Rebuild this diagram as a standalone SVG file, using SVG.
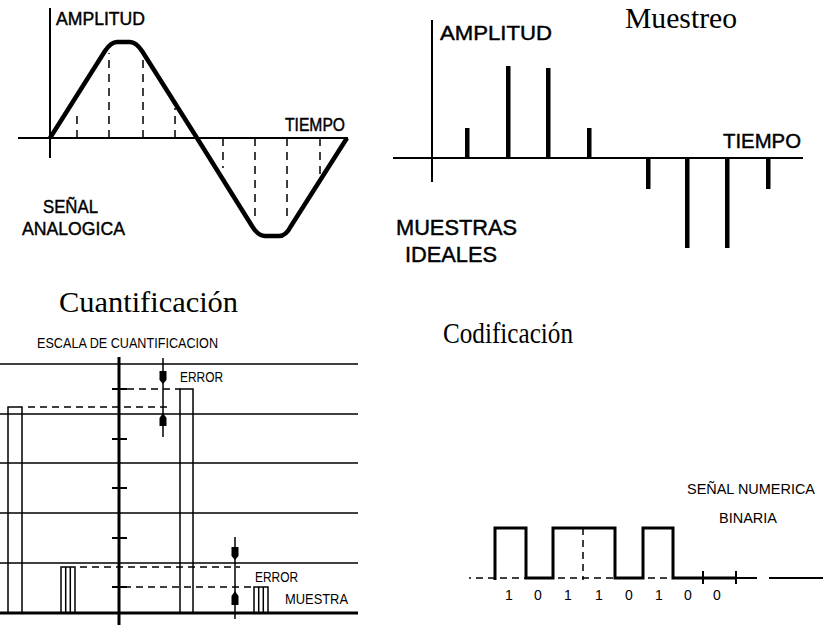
<svg xmlns="http://www.w3.org/2000/svg" width="823" height="626" viewBox="0 0 823 626">
<style>
.ax{stroke:#000;stroke-width:2;fill:none}
.thin{stroke:#000;stroke-width:1.5;fill:none}
.dash{stroke:#000;stroke-width:1.5;stroke-dasharray:8,6;fill:none}
.dash2{stroke:#000;stroke-width:1.5;stroke-dasharray:7,5;fill:none}
.bar{fill:#000}
.lbl{font-family:"Liberation Sans",Arial,sans-serif;fill:#000}
.bold{stroke:#000;stroke-width:0.45}
.ttl{font-family:"Liberation Serif","Times New Roman",serif;font-size:30px;fill:#000}
</style>
<rect width="823" height="626" fill="#fff"/>

<g id="panel-analog">
  <line class="ax" x1="50" y1="8" x2="50" y2="158"/>
  <line class="ax" x1="18" y1="138" x2="348" y2="138"/>
  <g class="dash">
    <line x1="77" y1="138" x2="77" y2="110"/>
    <line x1="109" y1="138" x2="109" y2="53"/>
    <line x1="143" y1="138" x2="143" y2="55"/>
    <line x1="175" y1="138" x2="175" y2="108"/>
    <line x1="223" y1="138" x2="223" y2="168"/>
    <line x1="255" y1="138" x2="255" y2="222"/>
    <line x1="287" y1="138" x2="287" y2="222"/>
    <line x1="320" y1="138" x2="320" y2="175"/>
  </g>
  <path d="M50,138 L105,51 Q111,42 117,42 L130,42 Q136,42 142,51 L197,138 L252,226 Q258,236 265,236 L279,236 Q286,236 291,226 L347,138" fill="none" stroke="#000" stroke-width="4.5" stroke-linejoin="round"/>
  <text class="lbl bold" x="56" y="25" font-size="18" textLength="89" lengthAdjust="spacingAndGlyphs">AMPLITUD</text>
  <text class="lbl bold" x="285" y="131" font-size="18" textLength="60" lengthAdjust="spacingAndGlyphs">TIEMPO</text>
  <text class="lbl bold" x="43" y="213" font-size="19" textLength="55" lengthAdjust="spacingAndGlyphs">SEÑAL</text>
  <text class="lbl bold" x="22" y="235" font-size="19" textLength="103" lengthAdjust="spacingAndGlyphs">ANALOGICA</text>
</g>

<g id="panel-muestreo">
  <text class="ttl" x="625" y="28" textLength="112" lengthAdjust="spacingAndGlyphs">Muestreo</text>
  <line class="ax" x1="432" y1="20" x2="432" y2="182"/>
  <line class="ax" x1="393" y1="158" x2="803" y2="158"/>
  <rect class="bar" x="465" y="128" width="4.5" height="30"/>
  <rect class="bar" x="506" y="66" width="4.5" height="92"/>
  <rect class="bar" x="546" y="68" width="4.5" height="90"/>
  <rect class="bar" x="587" y="128" width="4.5" height="30"/>
  <rect class="bar" x="646" y="158" width="4.5" height="31"/>
  <rect class="bar" x="685" y="158" width="4.5" height="90"/>
  <rect class="bar" x="725" y="158" width="4.5" height="90"/>
  <rect class="bar" x="766" y="158" width="4.5" height="31"/>
  <text class="lbl bold" x="440" y="40" font-size="21" textLength="112" lengthAdjust="spacingAndGlyphs">AMPLITUD</text>
  <text class="lbl bold" x="723" y="148" font-size="21" textLength="78" lengthAdjust="spacingAndGlyphs">TIEMPO</text>
  <text class="lbl bold" x="396" y="235" font-size="22" textLength="121" lengthAdjust="spacingAndGlyphs">MUESTRAS</text>
  <text class="lbl bold" x="405" y="262" font-size="22" textLength="92" lengthAdjust="spacingAndGlyphs">IDEALES</text>
</g>

<g id="panel-cuantificacion">
  <text class="ttl" x="59" y="312" textLength="179" lengthAdjust="spacingAndGlyphs">Cuantificación</text>
  <text class="lbl" x="37" y="348" font-size="14" textLength="181" lengthAdjust="spacingAndGlyphs">ESCALA DE CUANTIFICACION</text>
  <g class="thin">
    <line x1="0" y1="364" x2="358" y2="364"/>
    <line x1="0" y1="414" x2="358" y2="414"/>
    <line x1="0" y1="463" x2="358" y2="463"/>
    <line x1="0" y1="513" x2="358" y2="513"/>
    <line x1="0" y1="563" x2="358" y2="563"/>
  </g>
  <line x1="0" y1="613" x2="358" y2="613" stroke="#000" stroke-width="3"/>
  <line x1="119" y1="357" x2="119" y2="625" stroke="#000" stroke-width="3"/>
  <g class="ax">
    <line x1="112" y1="389" x2="127" y2="389"/>
    <line x1="112" y1="439" x2="127" y2="439"/>
    <line x1="112" y1="488" x2="127" y2="488"/>
    <line x1="112" y1="538" x2="127" y2="538"/>
    <line x1="112" y1="587" x2="127" y2="587"/>
  </g>
  <path class="thin" d="M8,613 V407 H22 V613"/>
  <path class="thin" d="M180,613 V389 H193 V613"/>
  <path class="thin" d="M61,613 V567 H75 V613 M65.7,567 V613 M70.3,567 V613"/>
  <path class="thin" d="M254,613 V587 H268 V613 M258.7,587 V613 M263.3,587 V613"/>
  <g class="dash2">
    <line x1="28" y1="407" x2="168" y2="407"/>
    <line x1="127" y1="389" x2="180" y2="389"/>
    <line x1="80" y1="567" x2="240" y2="567"/>
    <line x1="112" y1="587" x2="254" y2="587"/>
  </g>
  <line class="thin" x1="163" y1="358" x2="163" y2="437"/>
  <path class="bar" d="M159.5,371 H166.5 V380 L163,384 L159.5,380 Z"/>
  <path class="bar" d="M159.5,426 H166.5 V418 L163,413 L159.5,418 Z"/>
  <line class="thin" x1="235" y1="537" x2="235" y2="619"/>
  <path class="bar" d="M231.5,547 H238.5 V556 L235,560 L231.5,556 Z"/>
  <path class="bar" d="M231.5,605 H238.5 V596 L235,591 L231.5,596 Z"/>
  <text class="lbl" x="180" y="382" font-size="15" textLength="43" lengthAdjust="spacingAndGlyphs">ERROR</text>
  <text class="lbl" x="255" y="582" font-size="15" textLength="43" lengthAdjust="spacingAndGlyphs">ERROR</text>
  <text class="lbl" x="285" y="604" font-size="15" textLength="63" lengthAdjust="spacingAndGlyphs">MUESTRA</text>
</g>

<g id="panel-codificacion">
  <text class="ttl" x="443" y="343" textLength="130" lengthAdjust="spacingAndGlyphs">Codificación</text>
  <text class="lbl" x="687" y="494" font-size="15" textLength="128" lengthAdjust="spacingAndGlyphs">SEÑAL NUMERICA</text>
  <text class="lbl" x="719" y="523" font-size="15" textLength="58" lengthAdjust="spacingAndGlyphs">BINARIA</text>
  <line x1="469" y1="578" x2="471" y2="578" stroke="#000" stroke-width="1.5"/>
  <g class="dash2" stroke-dasharray="5,5">
    <line x1="476" y1="578" x2="495" y2="578"/>
    <line x1="500" y1="578" x2="526" y2="578"/>
    <line x1="558" y1="578" x2="615" y2="578"/>
    <line x1="648" y1="578" x2="673" y2="578"/>
  </g>
  <line class="dash2" stroke-dasharray="6,5" x1="583" y1="528" x2="583" y2="580"/>
  <path d="M495,580 V528 H526 V578 H553 V528 H615 V578 H643 V528 H673 V578 H736" fill="none" stroke="#000" stroke-width="3"/>
  <line class="ax" x1="736" y1="578" x2="757" y2="578"/>
  <line class="ax" x1="769" y1="578" x2="823" y2="578"/>
  <line class="ax" x1="703" y1="571" x2="703" y2="584"/>
  <line class="ax" x1="736" y1="571" x2="736" y2="584"/>
  <g class="lbl" font-size="14" text-anchor="middle">
    <text x="509" y="600">1</text>
    <text x="538" y="600">0</text>
    <text x="568" y="600">1</text>
    <text x="599" y="600">1</text>
    <text x="629" y="600">0</text>
    <text x="659" y="600">1</text>
    <text x="688" y="600">0</text>
    <text x="717" y="600">0</text>
  </g>
</g>
</svg>
